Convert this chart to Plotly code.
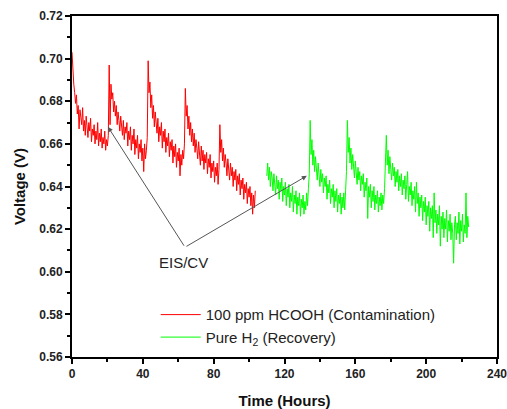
import plotly.graph_objects as go

# ---- data ----
t_step = 0.5
red_t0 = 0.0
red_v = [
    # 0 - 20.5 h
    0.703, 0.691, 0.688, 0.684, 0.679, 0.683, 0.674, 0.678, 0.667, 0.676,
    0.672, 0.669, 0.677, 0.666, 0.671, 0.664, 0.673, 0.668, 0.663, 0.670,
    0.666, 0.672, 0.661, 0.667, 0.664, 0.669, 0.660, 0.666, 0.662, 0.670,
    0.659, 0.665, 0.661, 0.667, 0.658, 0.663, 0.660, 0.666, 0.657, 0.662,
    0.659, 0.664,
    # 21 - 42 h
    0.697, 0.669, 0.688, 0.681, 0.684, 0.675, 0.680, 0.673, 0.678, 0.669,
    0.675, 0.671, 0.666, 0.673, 0.668, 0.664, 0.671, 0.662, 0.668, 0.665,
    0.670, 0.659, 0.666, 0.662, 0.668, 0.657, 0.664, 0.660, 0.667, 0.655,
    0.662, 0.658, 0.664, 0.653, 0.660, 0.656, 0.662, 0.652, 0.658, 0.647,
    0.660, 0.653, 0.657,
    # 42.5 - 63 h
    0.663, 0.699, 0.684, 0.689, 0.677, 0.683, 0.672, 0.678, 0.668, 0.675,
    0.670, 0.665, 0.672, 0.661, 0.668, 0.664, 0.670, 0.658, 0.666, 0.661,
    0.667, 0.656, 0.663, 0.659, 0.665, 0.654, 0.661, 0.657, 0.662, 0.651,
    0.659, 0.654, 0.660, 0.649, 0.656, 0.652, 0.658, 0.645, 0.655, 0.650,
    0.657, 0.653,
    # 63.5 - 83 h
    0.660, 0.686, 0.673, 0.678, 0.667, 0.673, 0.664, 0.670, 0.661, 0.667,
    0.659, 0.665, 0.656, 0.662, 0.658, 0.653, 0.661, 0.655, 0.650, 0.659,
    0.652, 0.657, 0.648, 0.655, 0.651, 0.656, 0.646, 0.653, 0.649, 0.655,
    0.644, 0.651, 0.647, 0.652, 0.642, 0.649, 0.645, 0.651, 0.641, 0.648,
    # 83.5 - 103.5 h
    0.669, 0.656, 0.662, 0.652, 0.658, 0.649, 0.655, 0.651, 0.645, 0.653,
    0.647, 0.643, 0.651, 0.645, 0.649, 0.640, 0.647, 0.643, 0.648, 0.638,
    0.645, 0.641, 0.646, 0.636, 0.643, 0.639, 0.644, 0.634, 0.641, 0.637,
    0.642, 0.632, 0.639, 0.635, 0.640, 0.631, 0.637, 0.627, 0.636, 0.630,
    0.638,
]
green_t0 = 110.0
green_v = [
    # 110 - 134 h
    0.645, 0.651, 0.643, 0.649, 0.640, 0.647, 0.644, 0.638, 0.646, 0.641,
    0.636, 0.645, 0.639, 0.643, 0.634, 0.642, 0.638, 0.644, 0.633, 0.640,
    0.636, 0.642, 0.631, 0.639, 0.635, 0.641, 0.630, 0.637, 0.633, 0.640,
    0.628, 0.636, 0.632, 0.638, 0.627, 0.635, 0.631, 0.637, 0.626, 0.634,
    0.630, 0.636, 0.627, 0.633, 0.629, 0.637, 0.631, 0.639, 0.646,
    # 134.5 - 155 h
    0.671, 0.655, 0.662, 0.650, 0.657, 0.647, 0.654, 0.649, 0.643, 0.651,
    0.645, 0.640, 0.648, 0.642, 0.646, 0.637, 0.644, 0.640, 0.645, 0.634,
    0.641, 0.637, 0.643, 0.632, 0.639, 0.635, 0.641, 0.630, 0.638, 0.633,
    0.639, 0.628, 0.636, 0.632, 0.637, 0.627, 0.635, 0.630, 0.637, 0.629,
    0.638, 0.647,
    # 155.5 - 177 h
    0.671, 0.656, 0.663, 0.651, 0.658, 0.648, 0.655, 0.650, 0.644, 0.652,
    0.646, 0.641, 0.649, 0.643, 0.647, 0.638, 0.645, 0.641, 0.646, 0.635,
    0.642, 0.638, 0.644, 0.625, 0.640, 0.635, 0.641, 0.630, 0.638, 0.633,
    0.640, 0.629, 0.636, 0.632, 0.638, 0.628, 0.635, 0.631, 0.637, 0.629,
    0.636, 0.632, 0.639, 0.648,
    # 177.5 - 224 h
    0.664, 0.650, 0.657, 0.646, 0.654, 0.648, 0.643, 0.651, 0.645, 0.649,
    0.640, 0.647, 0.642, 0.648, 0.638, 0.645, 0.640, 0.646, 0.636, 0.643,
    0.639, 0.645, 0.634, 0.641, 0.647, 0.633, 0.640, 0.636, 0.642, 0.631,
    0.638, 0.634, 0.640, 0.628, 0.642, 0.632, 0.637, 0.626, 0.635, 0.630,
    0.636, 0.624, 0.633, 0.628, 0.635, 0.622, 0.631, 0.626, 0.633, 0.619,
    0.630, 0.625, 0.631, 0.616, 0.637, 0.623, 0.629, 0.618, 0.627, 0.622,
    0.631, 0.612, 0.626, 0.620, 0.628, 0.616, 0.625, 0.620, 0.629, 0.614,
    0.624, 0.619, 0.627, 0.615, 0.623, 0.618, 0.604, 0.622, 0.626, 0.615,
    0.623, 0.618, 0.628, 0.613, 0.624, 0.619, 0.627, 0.614, 0.622, 0.618,
    0.637, 0.616, 0.626, 0.621,
]
red_t = [red_t0 + i * t_step for i in range(len(red_v))]
green_t = [green_t0 + i * t_step for i in range(len(green_v))]

series_names = ["100 ppm HCOOH (Contamination)", "Pure H<sub>2</sub> (Recovery)"]
annot_text = "EIS/CV"
annot_pos = (62.7, 0.6045)
arrow_tail = (63.8, 0.6115)
arrow_heads = [(20.3, 0.668), (132.6, 0.645)]

x_ticks = [0, 40, 80, 120, 160, 200, 240]
y_ticks = [0.56, 0.58, 0.60, 0.62, 0.64, 0.66, 0.68, 0.70, 0.72]

FONT = "Liberation Sans, Arial, sans-serif"

fig = go.Figure()
fig.add_trace(go.Scatter(x=red_t, y=red_v, mode="lines", name=series_names[0],
                         line=dict(color="#ff0000", width=1)))
fig.add_trace(go.Scatter(x=green_t, y=green_v, mode="lines", name=series_names[1],
                         line=dict(color="#00ff00", width=1)))

for hx, hy in arrow_heads:
    fig.add_annotation(x=hx, y=hy, ax=arrow_tail[0], ay=arrow_tail[1],
                       xref="x", yref="y", axref="x", ayref="y",
                       text="", showarrow=True, arrowhead=2, arrowsize=1,
                       arrowwidth=1, arrowcolor="#555555")
fig.add_annotation(x=annot_pos[0], y=annot_pos[1], xref="x", yref="y",
                   text=annot_text, showarrow=False,
                   font=dict(family=FONT, size=15, color="#222222"))

axis_common = dict(showline=True, linecolor="black", linewidth=2, mirror=True,
                   ticks="outside", ticklen=5, tickwidth=1.5, tickcolor="black",
                   showgrid=False, zeroline=False, automargin=False,
                   ticklabeloverflow="allow",
                   tickfont=dict(family=FONT, size=12, color="#222222", weight="bold"))

fig.update_xaxes(range=[0, 240], tickvals=x_ticks, ticktext=[str(v) for v in x_ticks],
                 minor=dict(dtick=20, tick0=0, ticks="outside", ticklen=3, tickcolor="black"),
                 title=dict(text="Time (Hours)", standoff=16,
                            font=dict(family=FONT, size=15, color="#111111", weight="bold")),
                 **axis_common)
fig.update_yaxes(range=[0.56, 0.72], tickvals=y_ticks, ticktext=[f"{v:.2f}" for v in y_ticks],
                 minor=dict(dtick=0.01, tick0=0.56, ticks="outside", ticklen=3, tickcolor="black"),
                 title=dict(text="Voltage (V)", standoff=10,
                            font=dict(family=FONT, size=15, color="#111111", weight="bold")),
                 **axis_common)

fig.update_layout(
    width=507, height=409,
    margin=dict(l=72, r=10, t=16, b=52),
    plot_bgcolor="white", paper_bgcolor="white",
    showlegend=True,
    legend=dict(x=0.197, y=0.172, xanchor="left", yanchor="top",
                bgcolor="rgba(0,0,0,0)", borderwidth=0,
                font=dict(family=FONT, size=15, color="#222222"),
                tracegroupgap=0, itemwidth=40),
)

fig.write_html("out.html")
